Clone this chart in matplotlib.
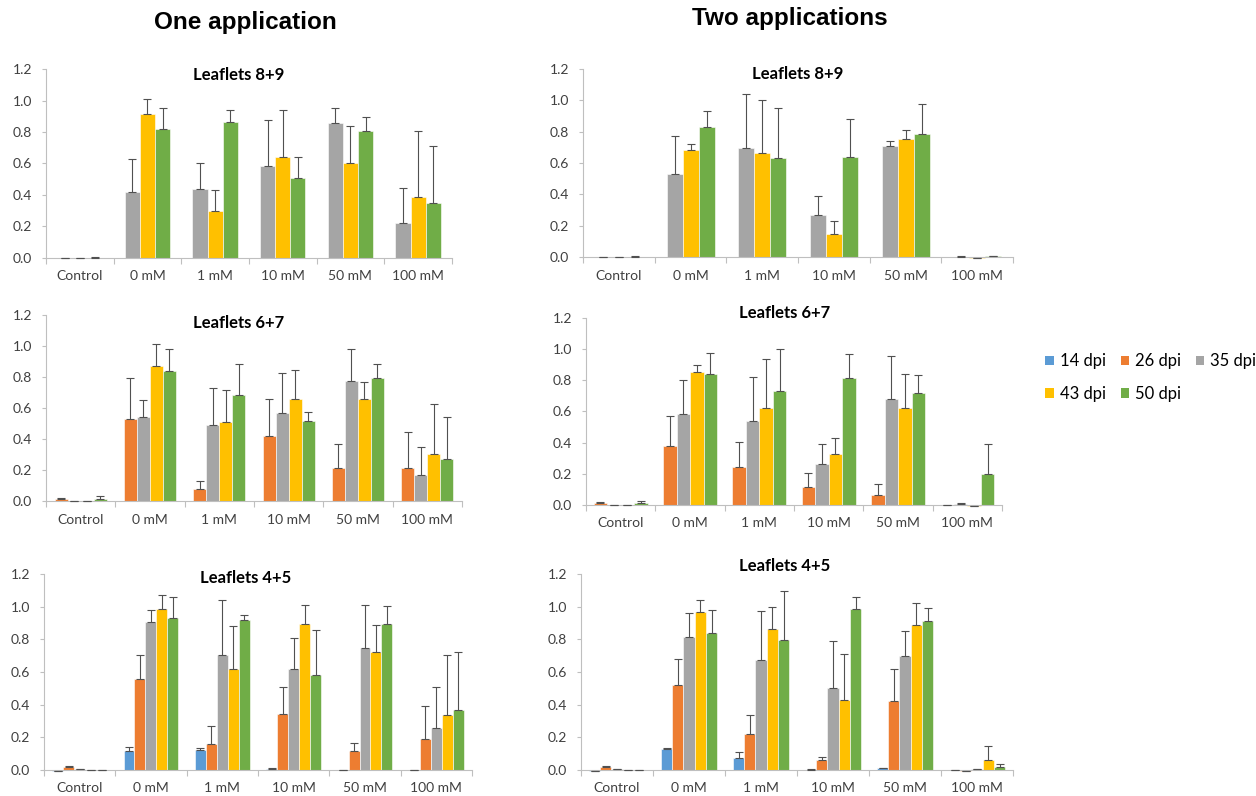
import numpy as np
import matplotlib.pyplot as plt
from matplotlib.patches import Patch

plt.rcParams['font.family'] = ['Lato', 'DejaVu Sans']

categories = ['Control', '0 mM', '1 mM', '10 mM', '50 mM', '100 mM']
series_names = ['14 dpi', '26 dpi', '35 dpi', '43 dpi', '50 dpi']
series_colors = ['#5B9BD5', '#ED7D31', '#A5A5A5', '#FFC000', '#70AD47']

# ---- One application ----
# leaflets 8+9 (only 35, 43, 50 dpi)
one_89_35 = [0.0, 0.42, 0.44, 0.585, 0.857, 0.222]
one_89_35_err = [0.0, 0.21, 0.165, 0.29, 0.095, 0.225]
one_89_43 = [0.001, 0.912, 0.30, 0.641, 0.605, 0.389]
one_89_43_err = [0.0, 0.10, 0.134, 0.30, 0.23, 0.417]
one_89_50 = [0.002, 0.817, 0.866, 0.508, 0.808, 0.351]
one_89_50_err = [0.003, 0.135, 0.076, 0.131, 0.085, 0.36]

# leaflets 6+7 (26, 35, 43, 50 dpi)
one_67_26 = [0.015, 0.531, 0.08, 0.419, 0.211, 0.215]
one_67_26_err = [0.005, 0.263, 0.049, 0.241, 0.157, 0.228]
one_67_35 = [-0.003, 0.544, 0.49, 0.566, 0.774, 0.17]
one_67_35_err = [0.0, 0.108, 0.241, 0.258, 0.204, 0.181]
one_67_43 = [-0.003, 0.873, 0.51, 0.66, 0.66, 0.30]
one_67_43_err = [0.0, 0.142, 0.206, 0.183, 0.106, 0.324]
one_67_50 = [0.012, 0.837, 0.682, 0.518, 0.796, 0.271]
one_67_50_err = [0.018, 0.144, 0.204, 0.056, 0.086, 0.273]

# leaflets 4+5 (all five)
one_45_14 = [-0.005, 0.116, 0.12, 0.005, 0.001, 0.001]
one_45_14_err = [0.0, 0.023, 0.014, 0.005, 0.0, 0.0]
one_45_26 = [0.02, 0.556, 0.159, 0.342, 0.114, 0.189]
one_45_26_err = [0.005, 0.147, 0.108, 0.165, 0.049, 0.2]
one_45_35 = [0.005, 0.903, 0.707, 0.617, 0.744, 0.255]
one_45_35_err = [0.0, 0.079, 0.332, 0.192, 0.265, 0.252]
one_45_43 = [-0.002, 0.986, 0.617, 0.894, 0.723, 0.338]
one_45_43_err = [0.0, 0.088, 0.267, 0.115, 0.165, 0.367]
one_45_50 = [0.0, 0.931, 0.917, 0.581, 0.892, 0.365]
one_45_50_err = [0.0, 0.129, 0.032, 0.279, 0.112, 0.36]

# ---- Two applications ----
two_89_35 = [0.0, 0.53, 0.696, 0.268, 0.71, 0.003]
two_89_35_err = [0.0, 0.24, 0.347, 0.121, 0.03, 0.002]
two_89_43 = [0.001, 0.683, 0.664, 0.147, 0.756, -0.005]
two_89_43_err = [0.0, 0.038, 0.338, 0.081, 0.056, 0.0]
two_89_50 = [0.003, 0.828, 0.632, 0.636, 0.786, 0.004]
two_89_50_err = [0.003, 0.104, 0.317, 0.245, 0.192, 0.002]

two_67_26 = [0.015, 0.379, 0.244, 0.116, 0.064, -0.003]
two_67_26_err = [0.005, 0.192, 0.16, 0.087, 0.071, 0.0]
two_67_35 = [-0.003, 0.586, 0.541, 0.263, 0.68, 0.008]
two_67_35_err = [0.0, 0.216, 0.278, 0.126, 0.274, 0.005]
two_67_43 = [-0.003, 0.856, 0.62, 0.325, 0.625, -0.005]
two_67_43_err = [0.0, 0.042, 0.317, 0.103, 0.218, 0.0]
two_67_50 = [0.01, 0.843, 0.729, 0.815, 0.721, 0.199]
two_67_50_err = [0.018, 0.135, 0.274, 0.156, 0.115, 0.192]

two_45_14 = [-0.005, 0.131, 0.071, 0.002, 0.012, 0.0]
two_45_14_err = [0.0, 0.002, 0.041, 0.002, 0.003, 0.0]
two_45_26 = [0.02, 0.52, 0.22, 0.059, 0.422, -0.004]
two_45_26_err = [0.005, 0.158, 0.117, 0.021, 0.198, 0.0]
two_45_35 = [0.003, 0.816, 0.673, 0.502, 0.696, 0.005]
two_45_35_err = [0.0, 0.143, 0.298, 0.288, 0.157, 0.003]
two_45_43 = [-0.002, 0.967, 0.865, 0.429, 0.888, 0.059]
two_45_43_err = [0.0, 0.076, 0.135, 0.281, 0.136, 0.086]
two_45_50 = [0.0, 0.839, 0.794, 0.988, 0.914, 0.018]
two_45_50_err = [0.0, 0.141, 0.304, 0.073, 0.076, 0.017]

AXIS_GREY = '#BFBFBF'
TEXT_GREY = '#404040'


def bar_panel(ax, title, series, group_frac, title_xy):
    """series: list of (index into series_names, values, errors)"""
    x = np.arange(len(categories))
    n = len(series)
    w = group_frac / n
    for k, (si, vals, errs) in enumerate(series):
        pos = x - group_frac / 2 + w * (k + 0.5)
        ax.bar(pos, vals, width=w, color=series_colors[si], edgecolor='white',
               linewidth=0.4, clip_on=False, zorder=2)
        ax.errorbar(pos, vals, yerr=[np.zeros(len(errs)), errs], fmt='none',
                    ecolor='#505050', elinewidth=0.8, capsize=3, capthick=0.8,
                    clip_on=False, zorder=3)
    ax.set_xlim(-0.5, len(categories) - 0.5)
    ax.set_ylim(0, 1.2)
    ax.set_yticks(np.arange(0, 1.21, 0.2))
    ax.set_yticklabels(['%.1f' % v for v in np.arange(0, 1.21, 0.2)])
    ax.set_xticks(x)
    ax.set_xticklabels(categories)
    ax.set_xticks(np.arange(-0.5, len(categories), 1.0), minor=True)
    ax.tick_params(axis='x', which='major', length=0, pad=9, labelsize=10, labelcolor=TEXT_GREY)
    ax.tick_params(axis='x', which='minor', length=4, width=0.8, color=AXIS_GREY)
    ax.tick_params(axis='y', length=3, width=0.8, color=AXIS_GREY, pad=7,
                   labelsize=10, labelcolor=TEXT_GREY)
    for s in ['top', 'right']:
        ax.spines[s].set_visible(False)
    for s in ['left', 'bottom']:
        ax.spines[s].set_color(AXIS_GREY)
        ax.spines[s].set_linewidth(0.8)
    ax.text(title_xy[0], title_xy[1], title, transform=ax.transAxes, ha='center',
            va='center', fontsize=12, fontweight='bold', color='black')


fig = plt.figure(figsize=(12.56, 7.96), dpi=100)

ax_tl = fig.add_axes([0.0366, 0.6759, 0.3232, 0.2374])
ax_tr = fig.add_axes([0.4642, 0.6771, 0.3424, 0.2362])
ax_ml = fig.add_axes([0.0366, 0.3706, 0.3312, 0.2337])
ax_mr = fig.add_axes([0.4666, 0.3656, 0.3312, 0.2349])
ax_bl = fig.add_axes([0.0350, 0.0327, 0.3408, 0.2462])
ax_br = fig.add_axes([0.4626, 0.0327, 0.3440, 0.2462])

bar_panel(ax_tl, 'Leaflets 8+9',
          [(2, one_89_35, one_89_35_err), (3, one_89_43, one_89_43_err),
           (4, one_89_50, one_89_50_err)], 0.67, (0.475, 0.968))
bar_panel(ax_tr, 'Leaflets 8+9',
          [(2, two_89_35, two_89_35_err), (3, two_89_43, two_89_43_err),
           (4, two_89_50, two_89_50_err)], 0.67, (0.498, 0.973))
bar_panel(ax_ml, 'Leaflets 6+7',
          [(1, one_67_26, one_67_26_err), (2, one_67_35, one_67_35_err),
           (3, one_67_43, one_67_43_err), (4, one_67_50, one_67_50_err)],
          0.75, (0.464, 0.957))
bar_panel(ax_mr, 'Leaflets 6+7',
          [(1, two_67_26, two_67_26_err), (2, two_67_35, two_67_35_err),
           (3, two_67_43, two_67_43_err), (4, two_67_50, two_67_50_err)],
          0.78, (0.478, 1.027))
bar_panel(ax_bl, 'Leaflets 4+5',
          [(0, one_45_14, one_45_14_err), (1, one_45_26, one_45_26_err),
           (2, one_45_35, one_45_35_err), (3, one_45_43, one_45_43_err),
           (4, one_45_50, one_45_50_err)], 0.77, (0.47, 0.98))
bar_panel(ax_br, 'Leaflets 4+5',
          [(0, two_45_14, two_45_14_err), (1, two_45_26, two_45_26_err),
           (2, two_45_35, two_45_35_err), (3, two_45_43, two_45_43_err),
           (4, two_45_50, two_45_50_err)], 0.78, (0.472, 1.04))

fig.text(245 / 1256, 1 - 22 / 796, 'One application', ha='center', va='center',
         fontsize=17.5, fontweight='bold', family='Liberation Sans')
fig.text(790 / 1256, 1 - 18 / 796, 'Two applications', ha='center', va='center',
         fontsize=17.5, fontweight='bold', family='Liberation Sans')

# legend reads row by row: 14 26 35 / 43 50 (matplotlib fills columns first)
order = [0, 3, 1, 4, 2]
handles = [Patch(facecolor=series_colors[i], edgecolor='none') for i in order]
labels = [series_names[i] for i in order]
fig.legend(handles, labels, loc='upper left', ncol=3, frameon=False,
           bbox_to_anchor=(1037 / 1256, 1 - 345 / 796), borderpad=0,
           fontsize=12, handlelength=0.5, handleheight=0.5, handletextpad=0.35,
           columnspacing=0.9, labelspacing=1.0, labelcolor='black')

fig.savefig('out.png', dpi=100)
